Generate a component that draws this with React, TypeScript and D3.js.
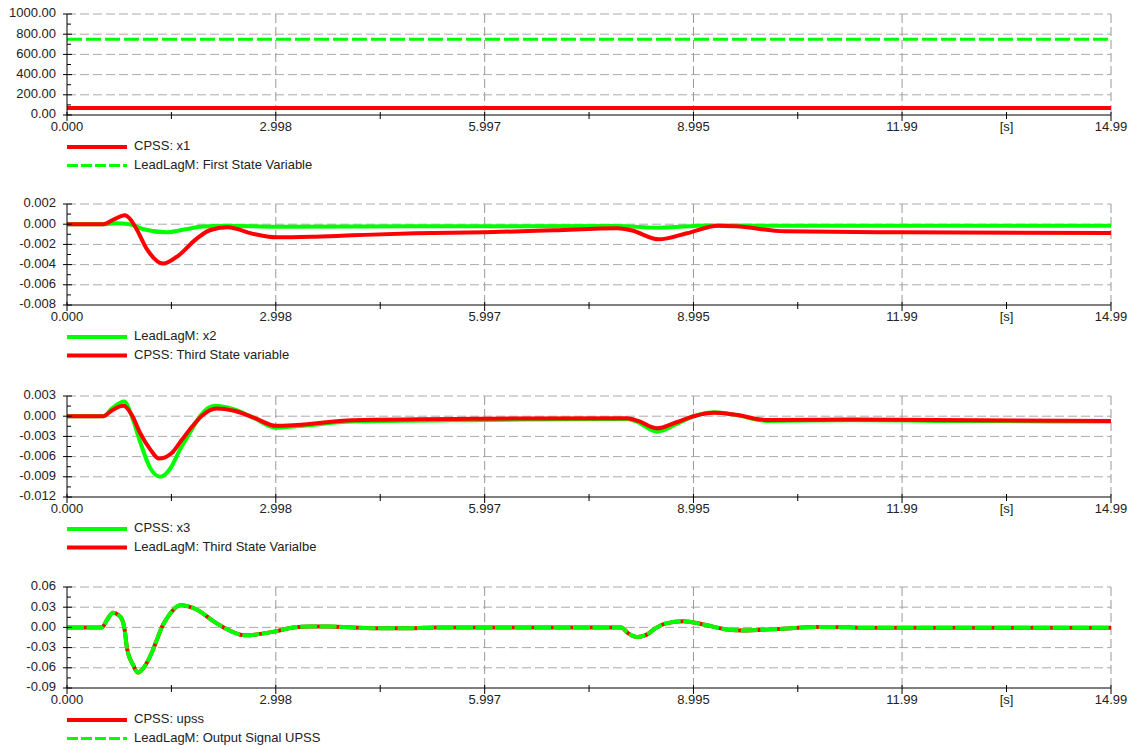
import * as d3 from "d3";

// time axis
const tMax = 14.99;
const xTickValues = [0, 2.998, 5.997, 8.995, 11.99, 14.99];
const xTickLabels = ["0.000", "2.998", "5.997", "8.995", "11.99", "14.99"];
const xUnitLabel = "[s]";

// panel 1
const p1Ticks = [0, 200, 400, 600, 800, 1000];
const cpssX1 = [[0, 70], [14.99, 70]];
const leadLagFirst = [[0, 750], [14.99, 750]];

// panel 2
const p2Ticks = [-0.008, -0.006, -0.004, -0.002, 0, 0.002];
const leadLagX2 = [
  [0, 0], [0.52, 0], [0.7, 0.0001], [0.9, 0], [1.1, -0.0005], [1.43, -0.0008], [1.7, -0.0005],
  [1.95, -0.00022], [2.3, -0.00015], [3.0, -0.00025], [5, -0.0002], [7.9, -0.00018], [8.5, -0.00035],
  [9.2, -0.00012], [10, -0.00015], [14.99, -0.00015],
];
const cpssThird = [
  [0, 0], [0.52, 0], [0.68, 0.0005], [0.83, 0.00088], [0.92, 0.0004], [1.0, -0.0005], [1.15, -0.0025],
  [1.38, -0.0039], [1.6, -0.0031], [1.85, -0.0015], [2.05, -0.0006], [2.3, -0.0003], [2.7, -0.001],
  [3.0, -0.0013], [3.5, -0.00125], [4.1, -0.0011], [5, -0.0009], [6, -0.0008], [7, -0.0006],
  [7.9, -0.0004], [8.1, -0.0006], [8.5, -0.0015], [8.9, -0.0009], [9.35, -0.00015], [9.6, -0.0002],
  [10.3, -0.0007], [12, -0.0008], [14.99, -0.00088],
];

// panel 3
const p3Ticks = [-0.012, -0.009, -0.006, -0.003, 0, 0.003];
const cpssX3 = [
  [0, 0], [0.52, 0], [0.65, 0.0012], [0.82, 0.0022], [0.93, 0], [1.05, -0.0038], [1.19, -0.0076],
  [1.34, -0.009], [1.48, -0.0078], [1.62, -0.005], [1.78, -0.0022], [1.91, 0], [2.12, 0.00154],
  [2.4, 0.001], [2.67, -0.0002], [3.0, -0.0017], [3.3, -0.0015], [4.1, -0.0008], [6, -0.00056],
  [8.04, -0.0004], [8.2, -0.0009], [8.47, -0.0023], [8.75, -0.0012], [9.0, 0], [9.3, 0.0006],
  [9.6, 0.0002], [10.05, -0.0007], [11.3, -0.0006], [12.5, -0.0007], [14.99, -0.0008],
];
const leadLagThird = [
  [0, 0], [0.52, 0], [0.65, 0.0009], [0.81, 0.00154], [0.93, 0.0002], [1.05, -0.0025], [1.2, -0.005],
  [1.32, -0.0063], [1.5, -0.0055], [1.65, -0.0035], [1.8, -0.0015], [1.93, 0], [2.15, 0.00116],
  [2.4, 0.0008], [2.7, -0.0003], [3.0, -0.00143], [3.3, -0.0013], [4.1, -0.0006], [6, -0.00037],
  [8.04, -0.0003], [8.2, -0.0007], [8.47, -0.0018], [8.75, -0.0009], [9.0, 0], [9.3, 0.0005],
  [9.6, 0.0002], [10.05, -0.00056], [11.3, -0.0005], [14.99, -0.0007],
];

// panel 4
const p4Ticks = [-0.09, -0.06, -0.03, 0, 0.03, 0.06];
const cpssUpss = [
  [0, 0], [0.5, 0], [0.58, 0.012], [0.66, 0.0217], [0.73, 0.019], [0.79, 0.012], [0.83, -0.005],
  [0.86, -0.03], [0.95, -0.056], [1.02, -0.067], [1.1, -0.06], [1.22, -0.037], [1.31, -0.013],
  [1.36, 0], [1.43, 0.0128], [1.63, 0.033], [1.86, 0.0266], [2.1, 0.0093], [2.25, 0], [2.56, -0.0118],
  [2.75, -0.01], [3.01, -0.0055], [3.25, 0], [3.5, 0.0015], [3.75, 0.0015], [4.1, 0], [4.5, -0.0012],
  [4.95, -0.0012], [5.3, 0], [7.96, 0], [8.05, -0.008], [8.19, -0.0143], [8.3, -0.012], [8.47, 0],
  [8.6, 0.006], [8.85, 0.0093], [9.14, 0.0044], [9.47, -0.003], [9.71, -0.0045], [10.28, -0.002],
  [10.76, 0.0005], [11.2, 0.0004], [11.4, -0.0004], [14.99, -0.0005],
];
const leadLagUpss = cpssUpss.map((d) => [d[0], d[1]]);

const RED = "#ff0000";
const GREEN = "#00ff00";
const FONT = "'Liberation Sans', Arial, sans-serif";

const panels = [
  {
    top: 14, ticks: p1Ticks, dec: 2,
    series: [
      { data: cpssX1, color: RED, width: 4, dash: null, legendDash: null, label: "CPSS: x1" },
      { data: leadLagFirst, color: GREEN, width: 3, dash: "15,4", legendDash: "11,3", label: "LeadLagM: First State Variable" },
    ],
  },
  {
    top: 204, ticks: p2Ticks, dec: 3,
    series: [
      { data: leadLagX2, color: GREEN, width: 4, dash: null, legendDash: null, label: "LeadLagM: x2" },
      { data: cpssThird, color: RED, width: 4, dash: null, legendDash: null, label: "CPSS: Third State variable" },
    ],
  },
  {
    top: 396, ticks: p3Ticks, dec: 3,
    series: [
      { data: cpssX3, color: GREEN, width: 4, dash: null, legendDash: null, label: "CPSS: x3" },
      { data: leadLagThird, color: RED, width: 4, dash: null, legendDash: null, label: "LeadLagM: Third State Varialbe" },
    ],
  },
  {
    top: 587, ticks: p4Ticks, dec: 2,
    series: [
      { data: cpssUpss, color: RED, width: 4, dash: null, legendDash: null, label: "CPSS: upss" },
      { data: leadLagUpss, color: GREEN, width: 4, dash: "17,2.5", legendDash: "11,3", label: "LeadLagM: Output Signal UPSS" },
    ],
  },
];

const left = 67;
const right = 1111;
const panelH = 101;

function Panel({ p }: { p: any }) {
  const x = d3.scaleLinear().domain([0, tMax]).range([left, right]);
  const bottom = p.top + panelH;
  const y = d3.scaleLinear().domain([p.ticks[0], p.ticks[p.ticks.length - 1]]).range([bottom, p.top]);
  const line = d3.line<number[]>().x((d) => x(d[0])).y((d) => y(d[1])).curve(d3.curveMonotoneX);
  const step = p.ticks[1] - p.ticks[0];
  const minorY = p.ticks.slice(0, -1).map((t: number) => t + step / 2);
  const minorX = xTickValues.slice(0, -1).map((t, i) => (t + xTickValues[i + 1]) / 2);
  return (
    <g>
      {p.ticks.slice(1).map((t: number) => (
        <line key={"h" + t} x1={left} x2={right} y1={y(t)} y2={y(t)} stroke="#aaa" strokeDasharray="9,4" />
      ))}
      {xTickValues.slice(1).map((t) => (
        <line key={"v" + t} x1={x(t)} x2={x(t)} y1={p.top} y2={bottom} stroke="#999" strokeDasharray="9,4" />
      ))}
      {p.series.map((s: any, i: number) => (
        <path key={i} d={line(s.data) || ""} fill="none" stroke={s.color} strokeWidth={s.width}
          strokeDasharray={s.dash || undefined} strokeLinejoin="round" />
      ))}
      <line x1={left} x2={left} y1={p.top} y2={bottom} stroke="#000" />
      <line x1={left} x2={right} y1={bottom} y2={bottom} stroke="#000" />
      {p.ticks.map((t: number) => (
        <g key={"yt" + t}>
          <line x1={left - 4} x2={left + 5} y1={y(t)} y2={y(t)} stroke="#000" />
          <text x={56} y={y(t)} textAnchor="end" dominantBaseline="middle" fontSize={13} fill="#222" fontFamily={FONT}>
            {t.toFixed(p.dec)}
          </text>
        </g>
      ))}
      {minorY.map((t: number) => (
        <line key={"ym" + t} x1={left} x2={left + 4} y1={y(t)} y2={y(t)} stroke="#000" />
      ))}
      {xTickValues.map((t, i) => (
        <g key={"xt" + t}>
          <line x1={x(t)} x2={x(t)} y1={bottom - 3} y2={bottom + 6} stroke="#000" />
          <text x={x(t)} y={bottom + 13} textAnchor="middle" dominantBaseline="middle" fontSize={13} fill="#222" fontFamily={FONT}>
            {xTickLabels[i]}
          </text>
        </g>
      ))}
      {minorX.map((t) => (
        <line key={"xm" + t} x1={x(t)} x2={x(t)} y1={bottom - 3} y2={bottom + 4} stroke="#000" />
      ))}
      <text x={x(minorX[minorX.length - 1])} y={bottom + 13} textAnchor="middle" dominantBaseline="middle" fontSize={13} fill="#222" fontFamily={FONT}>
        {xUnitLabel}
      </text>
      {p.series.map((s: any, i: number) => {
        const ly = bottom + 32 + i * 18.5;
        return (
          <g key={"lg" + i}>
            <line x1={67} x2={127} y1={ly} y2={ly} stroke={s.color} strokeWidth={s.legendDash ? 3 : 4}
              strokeDasharray={s.legendDash || undefined} />
            <text x={134} y={ly} dominantBaseline="middle" fontSize={13} fill="#222" fontFamily={FONT}>
              {s.label}
            </text>
          </g>
        );
      })}
    </g>
  );
}

export default function App() {
  return (
    <svg width={1134} height={749} style={{ position: "absolute", left: 0, top: 0, background: "#fff" }}>
      <rect width={1134} height={749} fill="#fff" />
      {panels.map((p, i) => (
        <Panel key={i} p={p} />
      ))}
    </svg>
  );
}
